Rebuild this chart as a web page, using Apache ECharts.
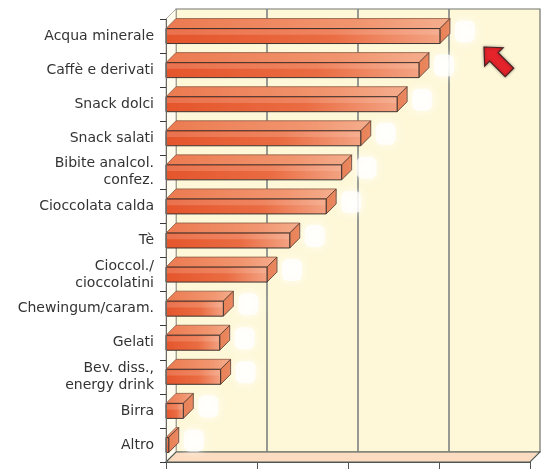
<!DOCTYPE html>
<html><head><meta charset="utf-8">
<script src="https://cdn.jsdelivr.net/npm/echarts@6/dist/echarts.min.js"></script>
<style>html,body{margin:0;padding:0;background:#fff}#c{width:541px;height:469px}</style>
</head><body><div id="c"></div>
<script>
const categories = ['Acqua minerale','Caffè e derivati','Snack dolci','Snack salati','Bibite analcol.\nconfez.','Cioccolata calda','Tè','Cioccol./\ncioccolatini','Chewingum/caram.','Gelati','Bev. diss.,\nenergy drink','Birra','Altro'];
const values = [30.1, 27.8, 25.4, 21.4, 19.3, 17.6, 13.6, 11.1, 6.3, 5.9, 6.0, 1.9, 0.3];
const gridTicks = [10, 20, 30];
const axisMax = 40;
const axisStep = 10;

const D = 10; // 3D depth offset in px

const chart = echarts.init(document.getElementById('c'), null, {renderer:'canvas'});

function renderWall(params, api){
  const cs = params.coordSys;
  const x0 = cs.x, y0 = cs.y, w = cs.width, h = cs.height;
  const children = [];
  children.push({type:'rect', shape:{x:x0+D, y:y0-D, width:w, height:h},
    style:{fill:'#fef8d9', stroke:'#6e746f', lineWidth:1.2}});
  children.push({type:'polygon', shape:{points:[[x0,y0],[x0+D,y0-D],[x0+D,y0+h-D],[x0,y0+h]]},
    style:{fill:'#fffcee', stroke:'#9a9a90', lineWidth:0.8}});
  children.push({type:'polygon', shape:{points:[[x0,y0+h],[x0+w,y0+h],[x0+w+D,y0+h-D],[x0+D,y0+h-D]]},
    style:{fill:'#fcdcc0', stroke:'#4f5a56', lineWidth:1.2}});
  gridTicks.forEach(function(t){
    const gx = api.coord([t, 0])[0] + D;
    children.push({type:'line', shape:{x1:gx, y1:y0-D, x2:gx, y2:y0+h-D},
      style:{stroke:'#7c8280', lineWidth:1.6}});
  });
  return {type:'group', children:children};
}

function renderBar(params, api){
  const v = api.value(0), cat = api.value(1);
  const p0 = api.coord([0, cat]);
  const p1 = api.coord([v, cat]);
  const band = api.size([0, 1])[1];
  const hh = band * 0.44;
  const xa = p0[0], xb = p1[0];
  const yT = p0[1] - hh/2, yB = p0[1] + hh/2;
  const children = [];
  children.push({type:'polygon', shape:{points:[[xa,yT],[xa+D,yT-D],[xb+D,yT-D],[xb,yT]]},
    style:{fill:new echarts.graphic.LinearGradient(0,0,1,0,[{offset:0,color:'#ec7a50'},{offset:0.7,color:'#f19670'},{offset:1,color:'#f5ae8e'}]),
      stroke:'#8c5a44', lineWidth:0.8}});
  children.push({type:'polygon', shape:{points:[[xb,yT],[xb+D,yT-D],[xb+D,yB-D],[xb,yB]]},
    style:{fill:'#e9845a', stroke:'#5a3e34', lineWidth:0.9}});
  children.push({type:'rect', shape:{x:xa, y:yT, width:Math.max(xb-xa,0.5), height:hh},
    style:{fill:new echarts.graphic.LinearGradient(0,0,1,0,[{offset:0,color:'#e5552c'},{offset:0.6,color:'#ea6c42'},{offset:1,color:'#f3a383'}]),
      stroke:'#3e3430', lineWidth:1}});
  // light highlight on upper half of front face
  children.push({type:'rect', shape:{x:xa+1, y:yT+1, width:Math.max(xb-xa-2,0), height:hh*0.35},
    style:{fill:'rgba(255,220,200,0.22)'}});
  // faded white label placeholder
  children.push({type:'rect', shape:{x:xb+D+5, y:yT-D+2, width:20, height:22, r:6},
    style:{fill:'#ffffff', opacity:0.75, shadowBlur:8, shadowColor:'#ffffff'}});
  return {type:'group', children:children};
}

const T = [484, 47];
function pt(a, b){
  const k = Math.SQRT1_2;
  return [T[0] + a*k + b*k, T[1] + a*k - b*k];
}
const arrowPts = [pt(0,0), pt(14,13), pt(14,6), pt(36,6), pt(36,-6), pt(14,-6), pt(14,-13)];

chart.setOption({
  animation:false,
  backgroundColor:'#ffffff',
  grid:{left:166, right:11, top:19, bottom:7, containLabel:false},
  xAxis:{type:'value', min:0, max:axisMax, interval:axisStep, z:5,
    axisLine:{show:true, lineStyle:{color:'#4f5652', width:1}},
    axisTick:{show:true, length:7, lineStyle:{color:'#4f5652', width:1}},
    axisLabel:{show:false}, splitLine:{show:false}},
  yAxis:{type:'category', data:categories, inverse:true, z:5,
    axisLine:{show:true, lineStyle:{color:'#6a6a66', width:1}},
    axisTick:{show:true, length:6, lineStyle:{color:'#3a3a3a', width:1}},
    axisLabel:{show:true, margin:12, fontSize:14, fontFamily:'DejaVu Sans', color:'#333333', lineHeight:17, align:'right'},
    splitLine:{show:false}},
  series:[
    {type:'custom', z:1, silent:true, renderItem:renderWall, data:[[0,0]], encode:{x:0, y:1}, clip:false},
    {type:'custom', z:2, renderItem:renderBar, data:values.map(function(v,i){return [v,i];}), encode:{x:0, y:1}, clip:false}
  ],
  graphic:[
    {type:'polygon', z:10, shape:{points:arrowPts},
      style:{fill:'#e5232b', stroke:'#4a2424', lineWidth:1.2, shadowBlur:3, shadowColor:'rgba(0,0,0,0.35)'}}
  ]
});
</script>
</body></html>
